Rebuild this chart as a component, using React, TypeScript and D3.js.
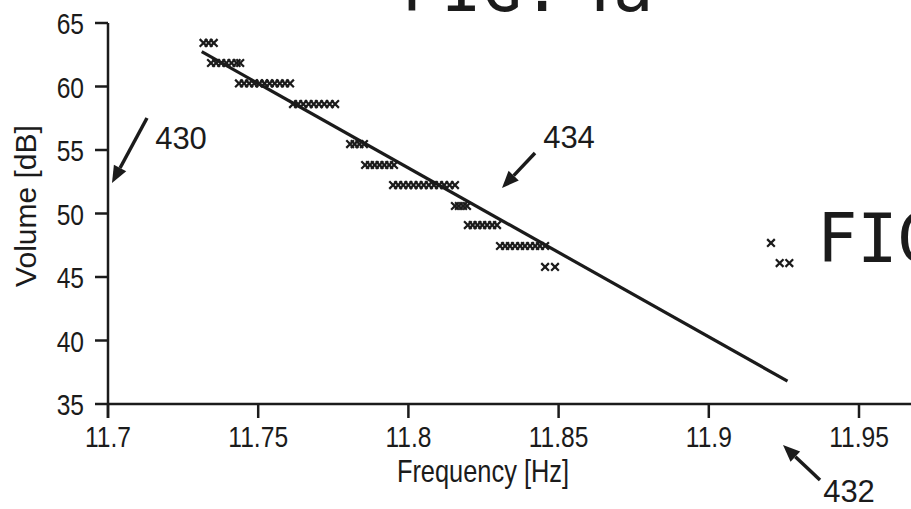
import React, { useRef, useEffect } from "react";
import * as d3 from "d3";

// measured rows of the scatter (volume in dB, frequencies in Hz)
const rowVolumes = [63.43, 61.85, 60.24, 58.62, 55.47, 53.82, 52.24, 50.59, 49.09, 47.44, 45.79];
const rowFrequencies = [
  [11.7318, 11.7335, 11.7352],
  [11.7343, 11.736, 11.7377, 11.7394, 11.7411, 11.7428, 11.744],
  [11.7436, 11.7453, 11.747, 11.7487, 11.7504, 11.7521, 11.7538, 11.7555, 11.7572, 11.7589, 11.7606],
  [11.7616, 11.7633, 11.765, 11.7668, 11.7685, 11.7702, 11.772, 11.7738, 11.7756],
  [11.7806, 11.7821, 11.7837, 11.7852],
  [11.7856, 11.7872, 11.7888, 11.7904, 11.792, 11.7936, 11.7952],
  [11.7949, 11.7966, 11.7983, 11.8, 11.8017, 11.8034, 11.8051, 11.8068, 11.8085, 11.8102, 11.8119, 11.8137, 11.8155],
  [11.8155, 11.8168, 11.8182, 11.8195],
  [11.8198, 11.8214, 11.823, 11.8246, 11.8262, 11.8279, 11.8295],
  [11.8305, 11.8322, 11.8338, 11.8355, 11.8372, 11.8388, 11.8405, 11.8422, 11.8438, 11.8455],
  [11.8455, 11.8488],
];
const outlierFreq = [11.9207, 11.9236, 11.9268];
const outlierVol = [47.68, 46.1, 46.1];

// fitted line end points
const fitFreq = [11.7312, 11.9262];
const fitVol = [62.74, 36.8];

const xTicks = [11.7, 11.75, 11.8, 11.85, 11.9, 11.95];
const xTickLabels = ["11.7", "11.75", "11.8", "11.85", "11.9", "11.95"];
const yTicks = [35, 40, 45, 50, 55, 60, 65];

const INK = "#1b1b1b";
const FONT = "'Liberation Sans', Arial, sans-serif";
const MONO = "'DejaVu Sans Mono', monospace";

const App = () => {
  const svgRef = useRef<SVGSVGElement>(null);

  useEffect(() => {
    document.body.style.margin = "0";
    const svg = d3.select(svgRef.current);
    svg.selectAll("*").remove();

    const x = d3.scaleLinear().domain([11.7, 11.95]).range([108, 859]);
    const y = d3.scaleLinear().domain([35, 65]).range([404, 23]);

    // text helper, narrowed by default
    const label = (tx, ty, str, anchor = "middle", size = 30, rot = 0, sx = 0.82) =>
      svg
        .append("text")
        .attr("transform", `translate(${tx},${ty}) rotate(${rot}) scale(${sx},1)`)
        .attr("text-anchor", anchor)
        .attr("font-family", FONT)
        .attr("font-size", size)
        .attr("fill", INK)
        .text(str);

    // axes
    svg.append("line").attr("x1", x(11.7)).attr("x2", 911).attr("y1", y(35)).attr("y2", y(35))
      .attr("stroke", INK).attr("stroke-width", 2.5);
    svg.append("line").attr("x1", x(11.7)).attr("x2", x(11.7)).attr("y1", y(65)).attr("y2", 418)
      .attr("stroke", INK).attr("stroke-width", 2.5);

    yTicks.forEach((t) => {
      svg.append("line").attr("x1", 95).attr("x2", x(11.7)).attr("y1", y(t)).attr("y2", y(t))
        .attr("stroke", INK).attr("stroke-width", 2.5);
      label(84, y(t) + 11, String(t), "end");
    });
    xTicks.forEach((t, i) => {
      svg.append("line").attr("x1", x(t)).attr("x2", x(t)).attr("y1", y(35)).attr("y2", 418)
        .attr("stroke", INK).attr("stroke-width", 2.5);
      label(x(t), 447, xTickLabels[i], "middle");
    });

    label(483, 482, "Frequency [Hz]", "middle", 31);
    label(36, 206, "Volume [dB]", "middle", 30, -90, 1);

    // fitted line
    const line = d3.line<number>().x((d, i) => x(fitFreq[i])).y((d) => y(d));
    svg.append("path").datum(fitVol).attr("d", line).attr("fill", "none")
      .attr("stroke", INK).attr("stroke-width", 3.2);

    // scatter of x markers
    const pts = rowFrequencies.flatMap((fs, i) => fs.map((f) => ({ f, v: rowVolumes[i] })))
      .concat(outlierFreq.map((f, i) => ({ f, v: outlierVol[i] })));
    const sym = d3.symbol().type(d3.symbolX).size(40);
    svg.selectAll(".pt").data(pts).enter().append("path").attr("class", "pt")
      .attr("transform", (d) => `translate(${x(d.f)},${y(d.v)})`)
      .attr("d", sym).attr("fill", "none").attr("stroke", INK).attr("stroke-width", 2.2);

    // callouts
    const arrow = (x1, y1, x2, y2) => {
      const a = Math.atan2(y2 - y1, x2 - x1);
      const L = 17, W = 7;
      const bx = x2 - L * Math.cos(a), by = y2 - L * Math.sin(a);
      svg.append("line").attr("x1", x1).attr("y1", y1).attr("x2", bx).attr("y2", by)
        .attr("stroke", INK).attr("stroke-width", 3.5);
      svg.append("path")
        .attr("d", `M${x2},${y2}L${bx + W * Math.sin(a)},${by - W * Math.cos(a)}L${bx - W * Math.sin(a)},${by + W * Math.cos(a)}Z`)
        .attr("fill", INK);
    };
    arrow(147, 118, 112, 183);
    label(181, 149, "430", "middle", 31, 0, 1);
    arrow(535, 153, 502, 188);
    label(569, 148, "434", "middle", 31, 0, 1);
    arrow(820, 480, 783, 445);
    label(849, 502, "432", "middle", 31, 0, 1);

    // figure captions
    svg.append("text").attr("x", 401).attr("y", 11).attr("font-family", MONO)
      .attr("font-size", 67).attr("fill", INK).attr("word-spacing", -30).text("FIG. 4a");
    svg.append("text").attr("x", 817).attr("y", 262).attr("font-family", MONO)
      .attr("font-size", 67).attr("fill", INK).text("FIG. 4b");
  }, []);

  return (
    <div style={{ background: "#fff", width: 911, height: 509 }}>
      <svg ref={svgRef} width={911} height={509} style={{ display: "block" }} />
    </div>
  );
};

export default App;
